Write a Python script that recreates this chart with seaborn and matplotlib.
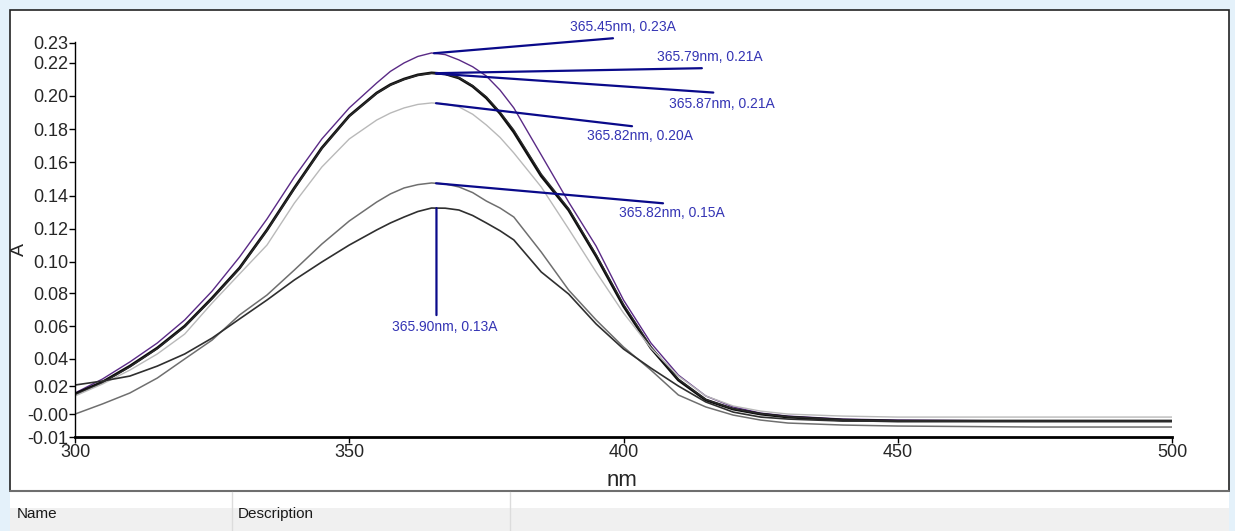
import numpy as np
import pandas as pd
import matplotlib
matplotlib.use("Agg")
import matplotlib.pyplot as plt
from matplotlib.patches import Rectangle
import seaborn as sns

# ---------------------------------------------------------------------
# Data (absorbance vs wavelength)
# ---------------------------------------------------------------------
wavelength = [300, 305, 310, 315, 320, 325, 330, 335, 340, 345, 350, 355,
              357.5, 360, 362.5, 365, 367.5, 370, 372.5, 375, 377.5, 380,
              385, 390, 395, 400, 405, 410, 415, 420, 425, 430, 440, 450,
              475, 500]

abs_purple = [0.0211, 0.0295, 0.0398, 0.0512, 0.0651, 0.0825, 0.1030, 0.1259,
              0.1512, 0.1741, 0.1928, 0.2078, 0.2148, 0.2199, 0.2238, 0.2259,
              0.2249, 0.2217, 0.2176, 0.2120, 0.2035, 0.1928, 0.1645, 0.1361,
              0.1096, 0.0771, 0.0512, 0.0319, 0.0193, 0.0127, 0.0090, 0.0072,
              0.0054, 0.0048, 0.0042, 0.0042]
abs_black1 = [0.0205, 0.0277, 0.0373, 0.0482, 0.0614, 0.0783, 0.0964, 0.1193,
              0.1446, 0.1687, 0.1880, 0.2018, 0.2068, 0.2102, 0.2127, 0.2139,
              0.2133, 0.2108, 0.2058, 0.1988, 0.1895, 0.1783, 0.1518, 0.1313,
              0.1036, 0.0735, 0.0482, 0.0289, 0.0169, 0.0114, 0.0084, 0.0066,
              0.0048, 0.0042, 0.0042, 0.0042]
abs_black2 = [0.0200, 0.0272, 0.0368, 0.0478, 0.0610, 0.0778, 0.0960, 0.1190,
              0.1442, 0.1684, 0.1878, 0.2016, 0.2066, 0.2100, 0.2125, 0.2137,
              0.2131, 0.2110, 0.2062, 0.1995, 0.1903, 0.1795, 0.1530, 0.1322,
              0.1045, 0.0745, 0.0490, 0.0295, 0.0172, 0.0116, 0.0086, 0.0068,
              0.0050, 0.0044, 0.0042, 0.0042]
abs_light = [0.0193, 0.0265, 0.0349, 0.0446, 0.0566, 0.0753, 0.0928, 0.1102,
             0.1355, 0.1572, 0.1741, 0.1855, 0.1897, 0.1928, 0.1949, 0.1958,
             0.1953, 0.1934, 0.1890, 0.1825, 0.1750, 0.1657, 0.1452, 0.1199,
             0.0940, 0.0693, 0.0482, 0.0313, 0.0193, 0.0133, 0.0102, 0.0084,
             0.0072, 0.0066, 0.0066, 0.0066]
abs_gray = [0.0084, 0.0145, 0.0211, 0.0301, 0.0416, 0.0530, 0.0681, 0.0801,
            0.0952, 0.1108, 0.1247, 0.1361, 0.1410, 0.1446, 0.1466, 0.1476,
            0.1470, 0.1452, 0.1418, 0.1367, 0.1325, 0.1271, 0.1060, 0.0831,
            0.0651, 0.0488, 0.0349, 0.0199, 0.0127, 0.0078, 0.0048, 0.0030,
            0.0018, 0.0012, 0.0006, 0.0006]
abs_dark = [0.0259, 0.0283, 0.0313, 0.0373, 0.0446, 0.0542, 0.0657, 0.0771,
            0.0892, 0.1000, 0.1102, 0.1193, 0.1235, 0.1271, 0.1304, 0.1325,
            0.1324, 0.1313, 0.1280, 0.1235, 0.1188, 0.1133, 0.0940, 0.0807,
            0.0627, 0.0476, 0.0361, 0.0253, 0.0157, 0.0096, 0.0066, 0.0054,
            0.0042, 0.0042, 0.0042, 0.0042]

# peak-pick labels (as printed by the instrument software)
peak_nm = [365.45, 365.79, 365.87, 365.82, 365.82, 365.90]
peak_labels = ["365.45nm, 0.23A", "365.79nm, 0.21A", "365.87nm, 0.21A",
               "365.82nm, 0.20A", "365.82nm, 0.15A", "365.90nm, 0.13A"]

ytick_pos = [-0.0054, 0.0084, 0.0253, 0.0416, 0.0614, 0.0813, 0.10, 0.12,
             0.14, 0.16, 0.18, 0.20, 0.22, 0.2319]
ytick_labels = ["-0.01", "-0.00", "0.02", "0.04", "0.06", "0.08", "0.10",
                "0.12", "0.14", "0.16", "0.18", "0.20", "0.22", "0.23"]
xticks = [300, 350, 400, 450, 500]

# ---------------------------------------------------------------------
# Styling
# ---------------------------------------------------------------------
sns.set_style("ticks")
plt.rcParams['font.family'] = ['Liberation Sans Narrow', 'Liberation Sans', 'DejaVu Sans']

W, H = 1235, 531
fig = plt.figure(figsize=(W / 100, H / 100), dpi=100)
fig.patch.set_facecolor('#e4f1fa')

def px_rect(x0, y0, x1, y1, **kw):
    # rectangle given in screen pixels (origin top-left), drawn behind the axes
    r = Rectangle((x0 / W, 1 - y1 / H), (x1 - x0) / W, (y1 - y0) / H,
                  transform=fig.transFigure, zorder=-10, **kw)
    fig.patches.append(r)

# window panel + table header
px_rect(10, 10, 1229, 491, facecolor='white', edgecolor='#222222', lw=1.2)
px_rect(10, 491, 1229, 531, facecolor='white', edgecolor='none')
px_rect(10, 508, 1229, 531, facecolor='#f0f0f0', edgecolor='none')
fig.add_artist(plt.Line2D([10 / W, 1229 / W], [1 - 491 / H] * 2, color='#6e6e6e', lw=1.5, zorder=-5))
for xs in (232, 510):
    fig.add_artist(plt.Line2D([xs / W] * 2, [0, 1 - 492 / H], color='#dcdcdc', lw=1, zorder=-5))
fig.text(17 / W, 1 - 514 / H, "Name", fontsize=11, va='center', color='#1a1a1a')
fig.text(238 / W, 1 - 514 / H, "Description", fontsize=11, va='center', color='#1a1a1a')

ax = fig.add_axes([75 / W, 1 - 437 / H, 1097 / W, (437 - 42) / H])
ax.set_facecolor('none')

series = [
    (abs_purple, '#5a2a86', 1.0),
    (abs_black1, '#0d0d0d', 2.0),
    (abs_black2, '#2a2a2a', 1.0),
    (abs_light, '#b9b9b9', 1.0),
    (abs_gray, '#6f6f6f', 1.1),
    (abs_dark, '#2f2f2f', 1.2),
]
for vals, col, lw in series:
    sns.lineplot(x=wavelength, y=vals, color=col, lw=lw, ax=ax, legend=False)

# peak annotations: line offset and text offset in pixels from the peak
navy = '#0a0a8a'
txt_col = '#3434b4'
line_off = [(179, 15), (266, 5), (277, -19), (196, -23), (227, -20), (0, -107)]
text_off = [(136, 26), (221, 16), (233, -30), (151, -33), (183, -30), (8, -119)]
for i, (vals, col, lw) in enumerate(series):
    px_nm = peak_nm[i]
    pk = np.interp(px_nm, wavelength, vals)
    ax.annotate('', xy=(px_nm, pk), xytext=line_off[i], textcoords='offset pixels',
                arrowprops=dict(arrowstyle='-', color=navy, lw=1.6, shrinkA=0, shrinkB=0),
                annotation_clip=False)
    ha = 'center' if i == 5 else 'left'
    ax.annotate(peak_labels[i], xy=(px_nm, pk), xytext=text_off[i],
                textcoords='offset pixels', ha=ha, va='center', fontsize=10,
                color=txt_col, annotation_clip=False)

ax.set_xlim(300, 500)
ax.set_ylim(-0.0054, 0.2325)
ax.set_xticks(xticks)
ax.set_xticklabels([str(v) for v in xticks], fontsize=13)
ax.set_yticks(ytick_pos)
ax.set_yticklabels(ytick_labels, fontsize=13)
ax.tick_params(axis='both', direction='out', length=4, width=1, color='black', pad=1)
for side in ('top', 'right'):
    ax.spines[side].set_visible(False)
ax.spines['left'].set_linewidth(1.0)
ax.spines['bottom'].set_linewidth(2.0)
ax.spines['left'].set_color('black')
ax.spines['bottom'].set_color('black')

fig.text(622 / W, 1 - 481 / H, "nm", fontsize=16, ha='center', va='center')
fig.text(19 / W, 1 - 250 / H, "A", fontsize=14, ha='center', va='center', rotation=90)

fig.savefig("out.png", dpi=100, facecolor=fig.get_facecolor())
